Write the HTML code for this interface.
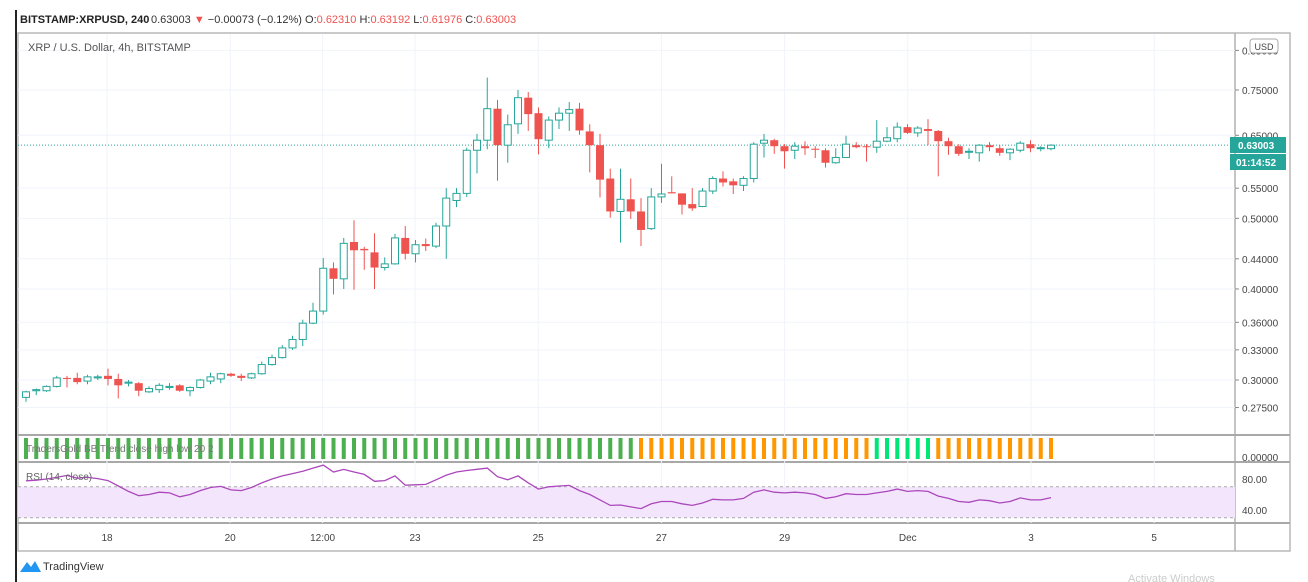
<!DOCTYPE html>
<html><head><meta charset="utf-8">
<style>
body{margin:0;background:#fff;width:1308px;height:582px;overflow:hidden;font-family:"Liberation Sans",sans-serif;}
svg{position:absolute;left:0;top:0}
</style></head>
<body>
<svg id="chart" width="1308" height="582" viewBox="0 0 1308 582">
  <rect x="0" y="0" width="1308" height="582" fill="#fff"/>
  <line x1="16" y1="10" x2="16" y2="582" stroke="#222" stroke-width="2"/>
  <g font-size="11">
    <text x="20" y="23" fill="#222" font-weight="bold">BITSTAMP:XRPUSD, 240</text>
    <text x="151" y="23" fill="#333">0.63003 <tspan fill="#ef5350">▼</tspan> −0.00073 (−0.12%) O:<tspan fill="#ef5350">0.62310</tspan> H:<tspan fill="#ef5350">0.63192</tspan> L:<tspan fill="#ef5350">0.61976</tspan> C:<tspan fill="#ef5350">0.63003</tspan></text>
  </g>
  <rect x="18" y="33" width="1272" height="518" fill="none" stroke="#b8b8b8" stroke-width="1.5"/>
  <line x1="1235" y1="33" x2="1235" y2="551" stroke="#b0b0b0" stroke-width="1.5"/>
  <line x1="18" y1="435" x2="1290" y2="435" stroke="#a8a8a8" stroke-width="2"/>
  <line x1="18" y1="462" x2="1290" y2="462" stroke="#a8a8a8" stroke-width="2"/>
  <line x1="18" y1="523" x2="1290" y2="523" stroke="#a8a8a8" stroke-width="2"/>
  <g id="grid"></g>
  <text x="28" y="51" font-size="11" fill="#555">XRP / U.S. Dollar, 4h, BITSTAMP</text>
  <g id="rsiPane"></g>
  <g id="bars"></g>
  <g id="candles"></g>
  <g id="axes" font-size="10" fill="#444"></g>
  <g>
    <rect x="1250" y="39" width="28" height="14" rx="3" fill="#fff" stroke="#aaa"/>
    <text x="1264" y="50" font-size="9" fill="#444" text-anchor="middle">USD</text>
  </g>
  <g>
    <rect x="1230" y="137" width="56" height="16" fill="#26a69a"/>
    <text x="1238" y="149" font-size="10" font-weight="bold" fill="#fff">0.63003</text>
    <rect x="1230" y="154" width="56" height="16" fill="#26a69a"/>
    <text x="1236" y="166" font-size="10" font-weight="bold" fill="#fff">01:14:52</text>
  </g>
  <text x="26" y="452" font-size="10" fill="#777">TradersGold BB Trend close high low 20 2</text>
  <text x="26" y="480" font-size="10" fill="#666">RSI (14, close)</text>
  <g>
    <path d="M20 572 L27 562 L31 567 L35 561 L41 572 Z" fill="#2196f3"/>
    <text x="43" y="570" font-size="11" fill="#333">TradingView</text>
  </g>
  <text x="1128" y="582" font-size="11" fill="#ccc">Activate Windows</text>
</svg>
<script>
const opens=[.284,.290,.290,.294,.302,.302,.299,.302,.304,.301,.297,.297,.289,.291,.293,.295,.290,.293,.299,.301,.306,.304,.302,.306,.315,.322,.332,.341,.359,.373,.427,.413,.464,.454,.449,.428,.433,.470,.447,.461,.458,.488,.529,.541,.620,.640,.707,.630,.674,.732,.697,.640,.682,.697,.707,.658,.630,.567,.511,.531,.511,.484,.535,.543,.541,.523,.519,.545,.567,.562,.555,.567,.634,.640,.628,.620,.628,.623,.620,.596,.606,.630,.628,.626,.638,.643,.667,.655,.663,.659,.638,.628,.616,.615,.630,.624,.615,.620,.632,.624,.6231];
const highs=[.290,.292,.295,.304,.304,.307,.305,.305,.311,.306,.300,.298,.294,.297,.297,.296,.294,.301,.307,.307,.307,.306,.307,.318,.325,.335,.345,.363,.383,.441,.435,.470,.497,.457,.477,.442,.476,.488,.467,.469,.493,.550,.550,.625,.653,.780,.727,.694,.750,.745,.710,.690,.710,.722,.720,.673,.653,.585,.585,.567,.533,.550,.594,.571,.541,.550,.550,.571,.580,.567,.571,.636,.653,.643,.632,.636,.638,.628,.624,.624,.649,.636,.632,.682,.667,.677,.673,.669,.684,.661,.645,.632,.624,.632,.636,.630,.624,.638,.640,.628,.6319];
const lows=[.280,.286,.289,.293,.293,.296,.296,.300,.295,.283,.294,.285,.288,.288,.291,.289,.285,.292,.296,.297,.303,.299,.301,.305,.314,.321,.330,.334,.358,.369,.393,.400,.399,.425,.400,.424,.432,.439,.435,.451,.455,.440,.518,.535,.576,.622,.563,.596,.653,.659,.612,.624,.663,.659,.651,.578,.534,.501,.463,.499,.458,.482,.525,.541,.506,.512,.518,.540,.553,.540,.545,.560,.606,.613,.585,.603,.611,.605,.587,.594,.606,.624,.598,.615,.636,.636,.653,.647,.630,.571,.611,.609,.603,.598,.618,.609,.601,.616,.616,.618,.6198];
const closes=[.289,.291,.294,.302,.301,.298,.303,.303,.301,.295,.298,.290,.292,.295,.294,.290,.293,.300,.303,.306,.304,.302,.306,.315,.322,.332,.341,.359,.373,.427,.413,.462,.452,.452,.428,.433,.470,.447,.460,.458,.488,.533,.541,.620,.640,.707,.630,.672,.732,.695,.642,.682,.697,.705,.660,.630,.565,.511,.531,.511,.482,.535,.540,.541,.522,.516,.545,.567,.560,.555,.567,.632,.640,.628,.618,.628,.624,.621,.596,.606,.632,.626,.626,.638,.645,.667,.655,.665,.659,.638,.628,.613,.618,.630,.626,.615,.622,.634,.624,.625,.63003];
const trendState=[];for(let i=0;i<101;i++)trendState.push(i<60?'up':(i<83?'neutral':(i<89?'strong':'neutral')));
const rsiValues=[77.7,78.5,80,82,84.6,81,82,80.5,78,71,64,58.4,60,63,62,57,60,65,69,70.5,66,65,69,75,80,84,87,90,94,98,89,92.4,89,86,77,78,84,72,72.5,73,79,85,89,91,92.5,94,83,79,84,75,67,70,71,71.7,65,60,53,46,46.4,44,41.8,48,51,51,48,46,49,53.8,53,53,55,63,66,63,62,63,62,60,55,57,61,60,60,62,64,67,64,65,64,58,55,51,50,53,52,49,51,55.6,53,53,56];
const priceTicks=[0.85,0.75,0.65,0.55,0.5,0.44,0.4,0.36,0.33,0.3,0.275];
const priceTickLabels=["0.85000","0.75000","0.65000","0.55000","0.50000","0.44000","0.40000","0.36000","0.33000","0.30000","0.27500"];
const timeTickDays=[18,20,21.5,23,25,27,29,31,33,35];
const timeTickLabels=["18","20","12:00","23","25","27","29","Dec","3","5"];
const rsiTicks=[80,40];
const lastPrice=0.63003;

const NS="http://www.w3.org/2000/svg";
function yP(p){return 90+(Math.log(0.75)-Math.log(p))*316.5;}
function xDay(d){return 107+(d-18)*61.6;}
function xIdx(i){return 26+i*10.25;}
function yR(v){return 479+(80-v)*0.775;}
function mk(tag,attrs,parent){const e=document.createElementNS(NS,tag);for(const k in attrs)e.setAttribute(k,attrs[k]);parent.appendChild(e);return e;}

const grid=document.getElementById('grid');
priceTicks.forEach(p=>{const l=mk('line',{x1:18,x2:1235,y1:yP(p),y2:yP(p),stroke:'#f0f3fa','stroke-width':1},grid);

});
timeTickDays.forEach(d=>{const l=mk('line',{x1:xDay(d),x2:xDay(d),y1:34,y2:523,stroke:'#f0f3fa','stroke-width':1},grid);

});
const cp=mk('line',{x1:18,x2:1235,y1:yP(lastPrice),y2:yP(lastPrice),stroke:'#26a69a','stroke-width':1,'stroke-dasharray':'1 2'},grid);



const axes=document.getElementById('axes');
priceTicks.forEach((p,i)=>{const y=yP(p);
const t=mk('line',{x1:1235,x2:1239,y1:y,y2:y,stroke:'#888'},axes);


const tx=mk('text',{x:1242,y:y+4},axes);tx.textContent=priceTickLabels[i];

});
timeTickDays.forEach((d,i)=>{const tx=mk('text',{x:xDay(d),y:541,'text-anchor':'middle'},axes);tx.textContent=timeTickLabels[i];

});
rsiTicks.forEach(v=>{const tx=mk('text',{x:1242,y:yR(v)+4},axes);tx.textContent=v.toFixed(2);

});
const z=mk('text',{x:1242,y:461},axes);z.textContent="0.00000";



const rp=document.getElementById('rsiPane');
const band=mk('rect',{x:18,y:yR(70),width:1217,height:yR(30)-yR(70),fill:'#f3e6fc'},rp);


[70,30].forEach(v=>{const l=mk('line',{x1:18,x2:1235,y1:yR(v),y2:yR(v),stroke:'#aaa','stroke-dasharray':'3 3'},rp);

});
const pts=rsiValues.map((v,i)=>xIdx(i).toFixed(1)+','+yR(v).toFixed(1)).join(' ');
const rl=mk('polyline',{points:pts,fill:'none',stroke:'#ab47bc','stroke-width':1.3},rp);



const bars=document.getElementById('bars');
const stateColor={up:'#4caf50',neutral:'#ff9800',strong:'#00e676'};
trendState.forEach((s,i)=>{const b=mk('rect',{x:xIdx(i)-2,y:438,width:4,height:21,fill:stateColor[s]},bars);

});

const cg=document.getElementById('candles');
opens.forEach((o,i)=>{const c=closes[i],x=xIdx(i),up=c>=o,col=up?'#26a69a':'#ef5350';
const g=mk('g',{},cg);


mk('line',{x1:x,x2:x,y1:yP(highs[i]),y2:yP(lows[i]),stroke:col,'stroke-width':1},g);
const top=yP(Math.max(o,c)),bot=yP(Math.min(o,c));
const h=Math.max(bot-top,1);
if(up)mk('rect',{x:x-3.5,y:top,width:7,height:h,fill:'#fff',stroke:col,'stroke-width':1},g);
else mk('rect',{x:x-4,y:top,width:8,height:h,fill:col},g);});
</script>
</body></html>
